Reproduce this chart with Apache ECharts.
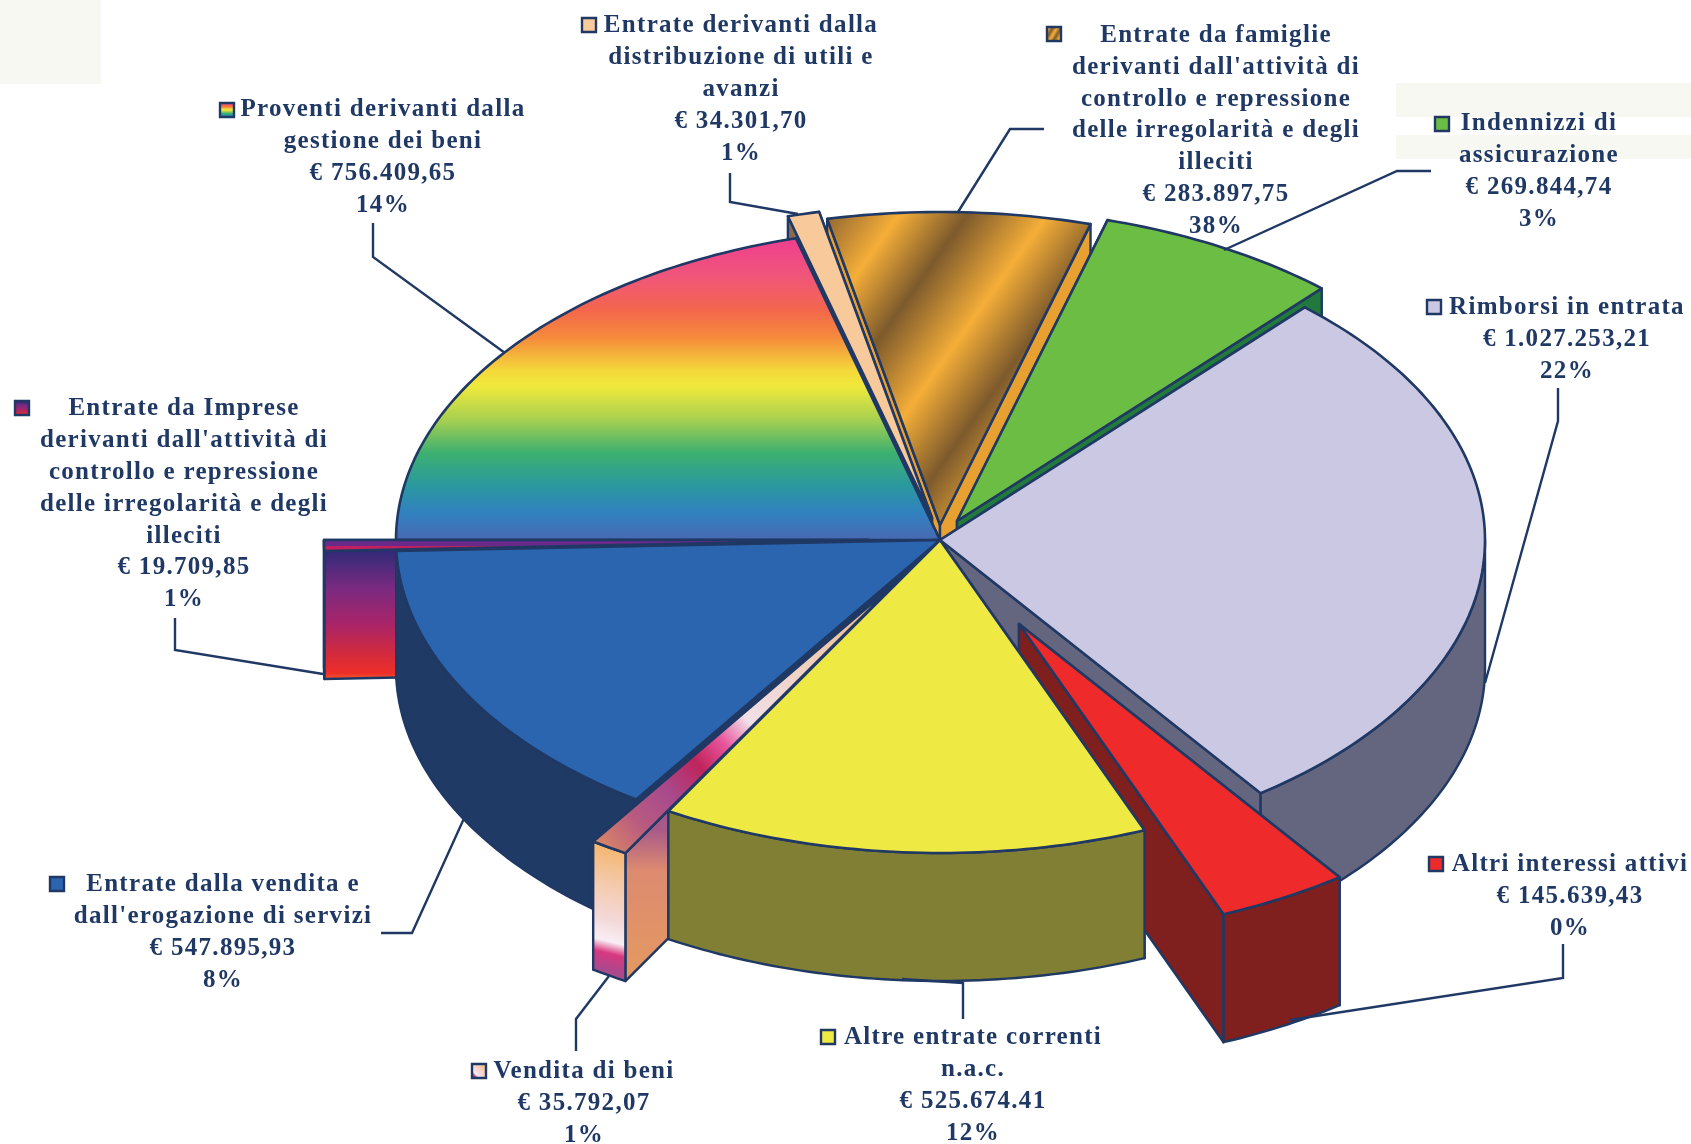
<!DOCTYPE html>
<html>
<head>
<meta charset="utf-8">
<title>Entrate</title>
<style>html,body{margin:0;padding:0;background:#fff}#chart{width:1691px;height:1144px}</style>
<script src="https://cdn.jsdelivr.net/npm/echarts@6/dist/echarts.min.js"></script>
</head>
<body>
<div id="chart"></div>
<script>
// ---------- data (clockwise from the left edge of the pie) ----------
const categories = [
  ["Proventi derivanti dalla", "gestione dei beni"],
  ["Entrate derivanti dalla", "distribuzione di utili e", "avanzi"],
  ["Entrate da famiglie", "derivanti dall'attività di", "controllo e repressione", "delle irregolarità e degli", "illeciti"],
  ["Indennizzi di", "assicurazione"],
  ["Rimborsi in entrata"],
  ["Altri interessi attivi"],
  ["Altre entrate correnti", "n.a.c."],
  ["Vendita di beni"],
  ["Entrate dalla vendita e", "dall'erogazione di servizi"],
  ["Entrate da Imprese", "derivanti dall'attività di", "controllo e repressione", "delle irregolarità e degli", "illeciti"]
];
const amounts = ["€ 756.409,65", "€ 34.301,70", "€ 283.897,75", "€ 269.844,74", "€ 1.027.253,21",
                 "€ 145.639,43", "€ 525.674.41", "€ 35.792,07", "€ 547.895,93", "€ 19.709,85"];
const percents = ["14%", "1%", "38%", "3%", "22%", "0%", "12%", "1%", "8%", "1%"];
// share of the circle that each slice occupies in the picture, in percent
const sliceShares = [20.72, 0.94, 7.78, 7.22, 28.33, 3.89, 14.44, 1.11, 15.0, 0.56];

// ---------- layout and style ----------
const NAVY = "#1f3864";
const CX = 940.5, CY = 540, RX = 544.5, RY = 313, DEPTH = 128, START = -90;
const LINE_H = 31.8, SPACING = "1.3px", FONT = 'bold 25px "Liberation Serif"';
const explode = [[0,0],[-8,-22],[0,-15],[17,-19],[0,0],[79,84],[0,0],[-43,42],[0,0],[-72,0]];
const drawOrder = [2, 3, 1, 0, 4, 9, 8, 7, 5, 6];
const G = (x, y, x2, y2, stops) => new echarts.graphic.LinearGradient(x, y, x2, y2,
  stops.map(s => ({offset: s[0], color: s[1]})));
const rainbow = G(0,0,0,1,[[0,"#ee3e90"],[.13,"#f0567a"],[.24,"#f4664c"],[.33,"#f58a3c"],[.44,"#f4d83a"],
  [.49,"#f0e93c"],[.60,"#a8d050"],[.71,"#3cb070"],[.82,"#2a98a0"],[.91,"#3280c0"],[1,"#4a68b0"]]);
const stripes = G(0,0,1,.6,[[0,"#8a6230"],[.19,"#f5ae38"],[.36,"#7d5a2c"],[.56,"#f5ae38"],[.74,"#7d5a2c"],[.93,"#f5ae38"],[1,"#d09838"]]);
const impTop = G(0,0,0,1,[[0,"#6a2a8a"],[.5,"#6a2a8a"],[.55,"#c02060"],[1,"#c02060"]]);
const impWall = G(0,0,0,1,[[0,"#2f2a78"],[.1,"#352a78"],[.35,"#7a2a80"],[.6,"#a82468"],[.8,"#d02a40"],[.95,"#ee2e28"],[1,"#f46030"]]);
const venTop = G(0,1,1,0,[[0,"#e09060"],[.14,"#b85a80"],[.24,"#a84a8c"],[.34,"#c0245c"],[.42,"#e8559c"],[.5,"#f0e0e8"],[.7,"#f0d0c0"],[1,"#f0b070"]]);
const venWall = G(0,0,0,1,[[0,"#c0286a"],[.4,"#a04a8c"],[.62,"#a85a88"],[.72,"#dd8a70"],[1,"#e49a60"]]);
const venRim = G(1,0,0,1,[[0,"#f5b060"],[.3,"#f4c9a8"],[.55,"#f4d8d8"],[.7,"#f8eef4"],[.78,"#d83880"],[.9,"#a84a8c"],[1,"#a84a8c"]]);
const topFill = [rainbow, "#f8c99a", stripes, "#6cbd43", "#cbc8e4", "#ee2b2a", "#efe944", venTop, "#2b65af", impTop];
const rimFill = ["#4a68b0", "#8a6a50", "#e8a030", "#217a3b", "#64657f", "#7f1f1e", "#807f33", venRim, "#1f3a64", impWall];
const wallFill = ["#2a4a8a", "#8a6a50", "#e8a030", "#217a3b", "#64657f", "#7f1f1e", "#807f33", venWall, "#1f3a64", impWall];
const keyFill = [rainbow, "#f8c99a", stripes, "#6cbd43", "#cbc8e4", "#ee2b2a", "#efe944", venRim, "#2b65af", impWall];

const labelPos = [[383,110],[741,26],[1216,35.5],[1539,124],[1567,308],[1570,865],[973,1038],[584,1072],[223,885],[184,409]];
const keyPos = [[227,110],[589,25],[1054,34],[1442,124],[1434,307],[1436,864],[828,1037],[479,1071],[57,884],[22,408]];
const leaders = [
  [[373,223],[373,257],[505,353]],
  [[730,173],[730,202],[798,214]],
  [[1044,129],[1010,129],[958,212]],
  [[1431,171],[1397,171],[1224,250]],
  [[1558,388],[1558,421],[1485,683]],
  [[1563,944],[1563,978],[1290,1020]],
  [[963,1019],[963,983],[902,979]],
  [[576,1051],[576,1019],[609,976]],
  [[381,933],[412,933],[466,814]],
  [[175,618],[175,650],[323,674]]
];
const patches = [[0,0,101,84],[1396,83,295,34],[1396,135,295,24]];

// canvas letter spacing for the wide-set type of the reference
const fillTextOrig = CanvasRenderingContext2D.prototype.fillText;
CanvasRenderingContext2D.prototype.fillText = function () {
  this.letterSpacing = SPACING;
  return fillTextOrig.apply(this, arguments);
};

// ---------- geometry helpers ----------
const total = sliceShares.reduce((a, b) => a + b, 0);
const bounds = [START];
sliceShares.forEach(s => bounds.push(bounds[bounds.length - 1] + s / total * 360));
function pt(deg, off, dz) {
  const t = deg * Math.PI / 180;
  return [CX + off[0] + RX * Math.sin(t), CY + off[1] - RY * Math.cos(t) + dz];
}
function arc(a, b, off, dz) {
  const out = [], n = Math.max(2, Math.ceil(Math.abs(b - a)));
  for (let i = 0; i <= n; i++) out.push(pt(a + (b - a) * i / n, off, dz));
  return out;
}
function renderSlice(params, api) {
  const i = api.value(0), off = explode[i], a = bounds[i], b = bounds[i + 1];
  const apex = [CX - 0.5 + off[0], CY + off[1]], apexB = [apex[0], apex[1] + DEPTH];
  const line = {stroke: NAVY, lineWidth: 2.4, lineJoin: "round"};
  const kids = [];
  const wall = d => {
    const p = pt(d, off, 0), q = pt(d, off, DEPTH);
    kids.push({type: "polygon", shape: {points: [apex, p, q, apexB]},
      style: Object.assign({fill: wallFill[i]}, line)});
  };
  // the radial wall nearer the viewer is painted last
  if (pt(a, off, 0)[1] > pt(b, off, 0)[1]) { wall(b); wall(a); } else { wall(a); wall(b); }
  // visible part of the curved rim: the front half of the ellipse
  const na = ((a % 360) + 360) % 360;
  const s = Math.max(na, 90), e = Math.min(na + (b - a), 270);
  if (e > s) {
    kids.push({type: "polygon", shape: {points: arc(s, e, off, 0).concat(arc(e, s, off, DEPTH))},
      style: Object.assign({fill: rimFill[i]}, line)});
  }
  kids.push({type: "polygon", shape: {points: [apex].concat(arc(a, b, off, 0))},
    style: Object.assign({fill: topFill[i]}, line, {lineWidth: 2.6})});
  return {type: "group", children: kids};
}
function renderLabel(params, api) {
  const i = api.value(0), lines = categories[i].concat([amounts[i], percents[i]]);
  const kids = [];
  kids.push({type: "polyline", shape: {points: leaders[i]}, style: {stroke: NAVY, lineWidth: 2.4, fill: null}});
  const k = keyPos[i];
  kids.push({type: "rect", shape: {x: k[0] - 7, y: k[1] - 7, width: 14, height: 14},
    style: {fill: keyFill[i], stroke: NAVY, lineWidth: 2.4}});
  lines.forEach((t, n) => kids.push({type: "text", style: {
    text: t, x: labelPos[i][0], y: labelPos[i][1] + n * LINE_H, align: "center", verticalAlign: "middle",
    font: FONT, fill: NAVY}}));
  return {type: "group", children: kids};
}

const chart = echarts.init(document.getElementById("chart"), null, {renderer: "canvas"});
chart.setOption({
  animation: false,
  backgroundColor: "#ffffff",
  tooltip: {show: false},
  graphic: patches.map(p => ({type: "rect", silent: true, z: -1,
    shape: {x: p[0], y: p[1], width: p[2], height: p[3]}, style: {fill: "#f8f8f2"}})),
  series: [
    {type: "custom", name: "slices", coordinateSystem: "none", silent: true, z: 2,
     data: drawOrder.map(i => [i, sliceShares[i]]), renderItem: renderSlice},
    {type: "custom", name: "labels", coordinateSystem: "none", silent: true, z: 3,
     data: categories.map((c, i) => [i]), renderItem: renderLabel}
  ]
});
</script>
</body>
</html>
